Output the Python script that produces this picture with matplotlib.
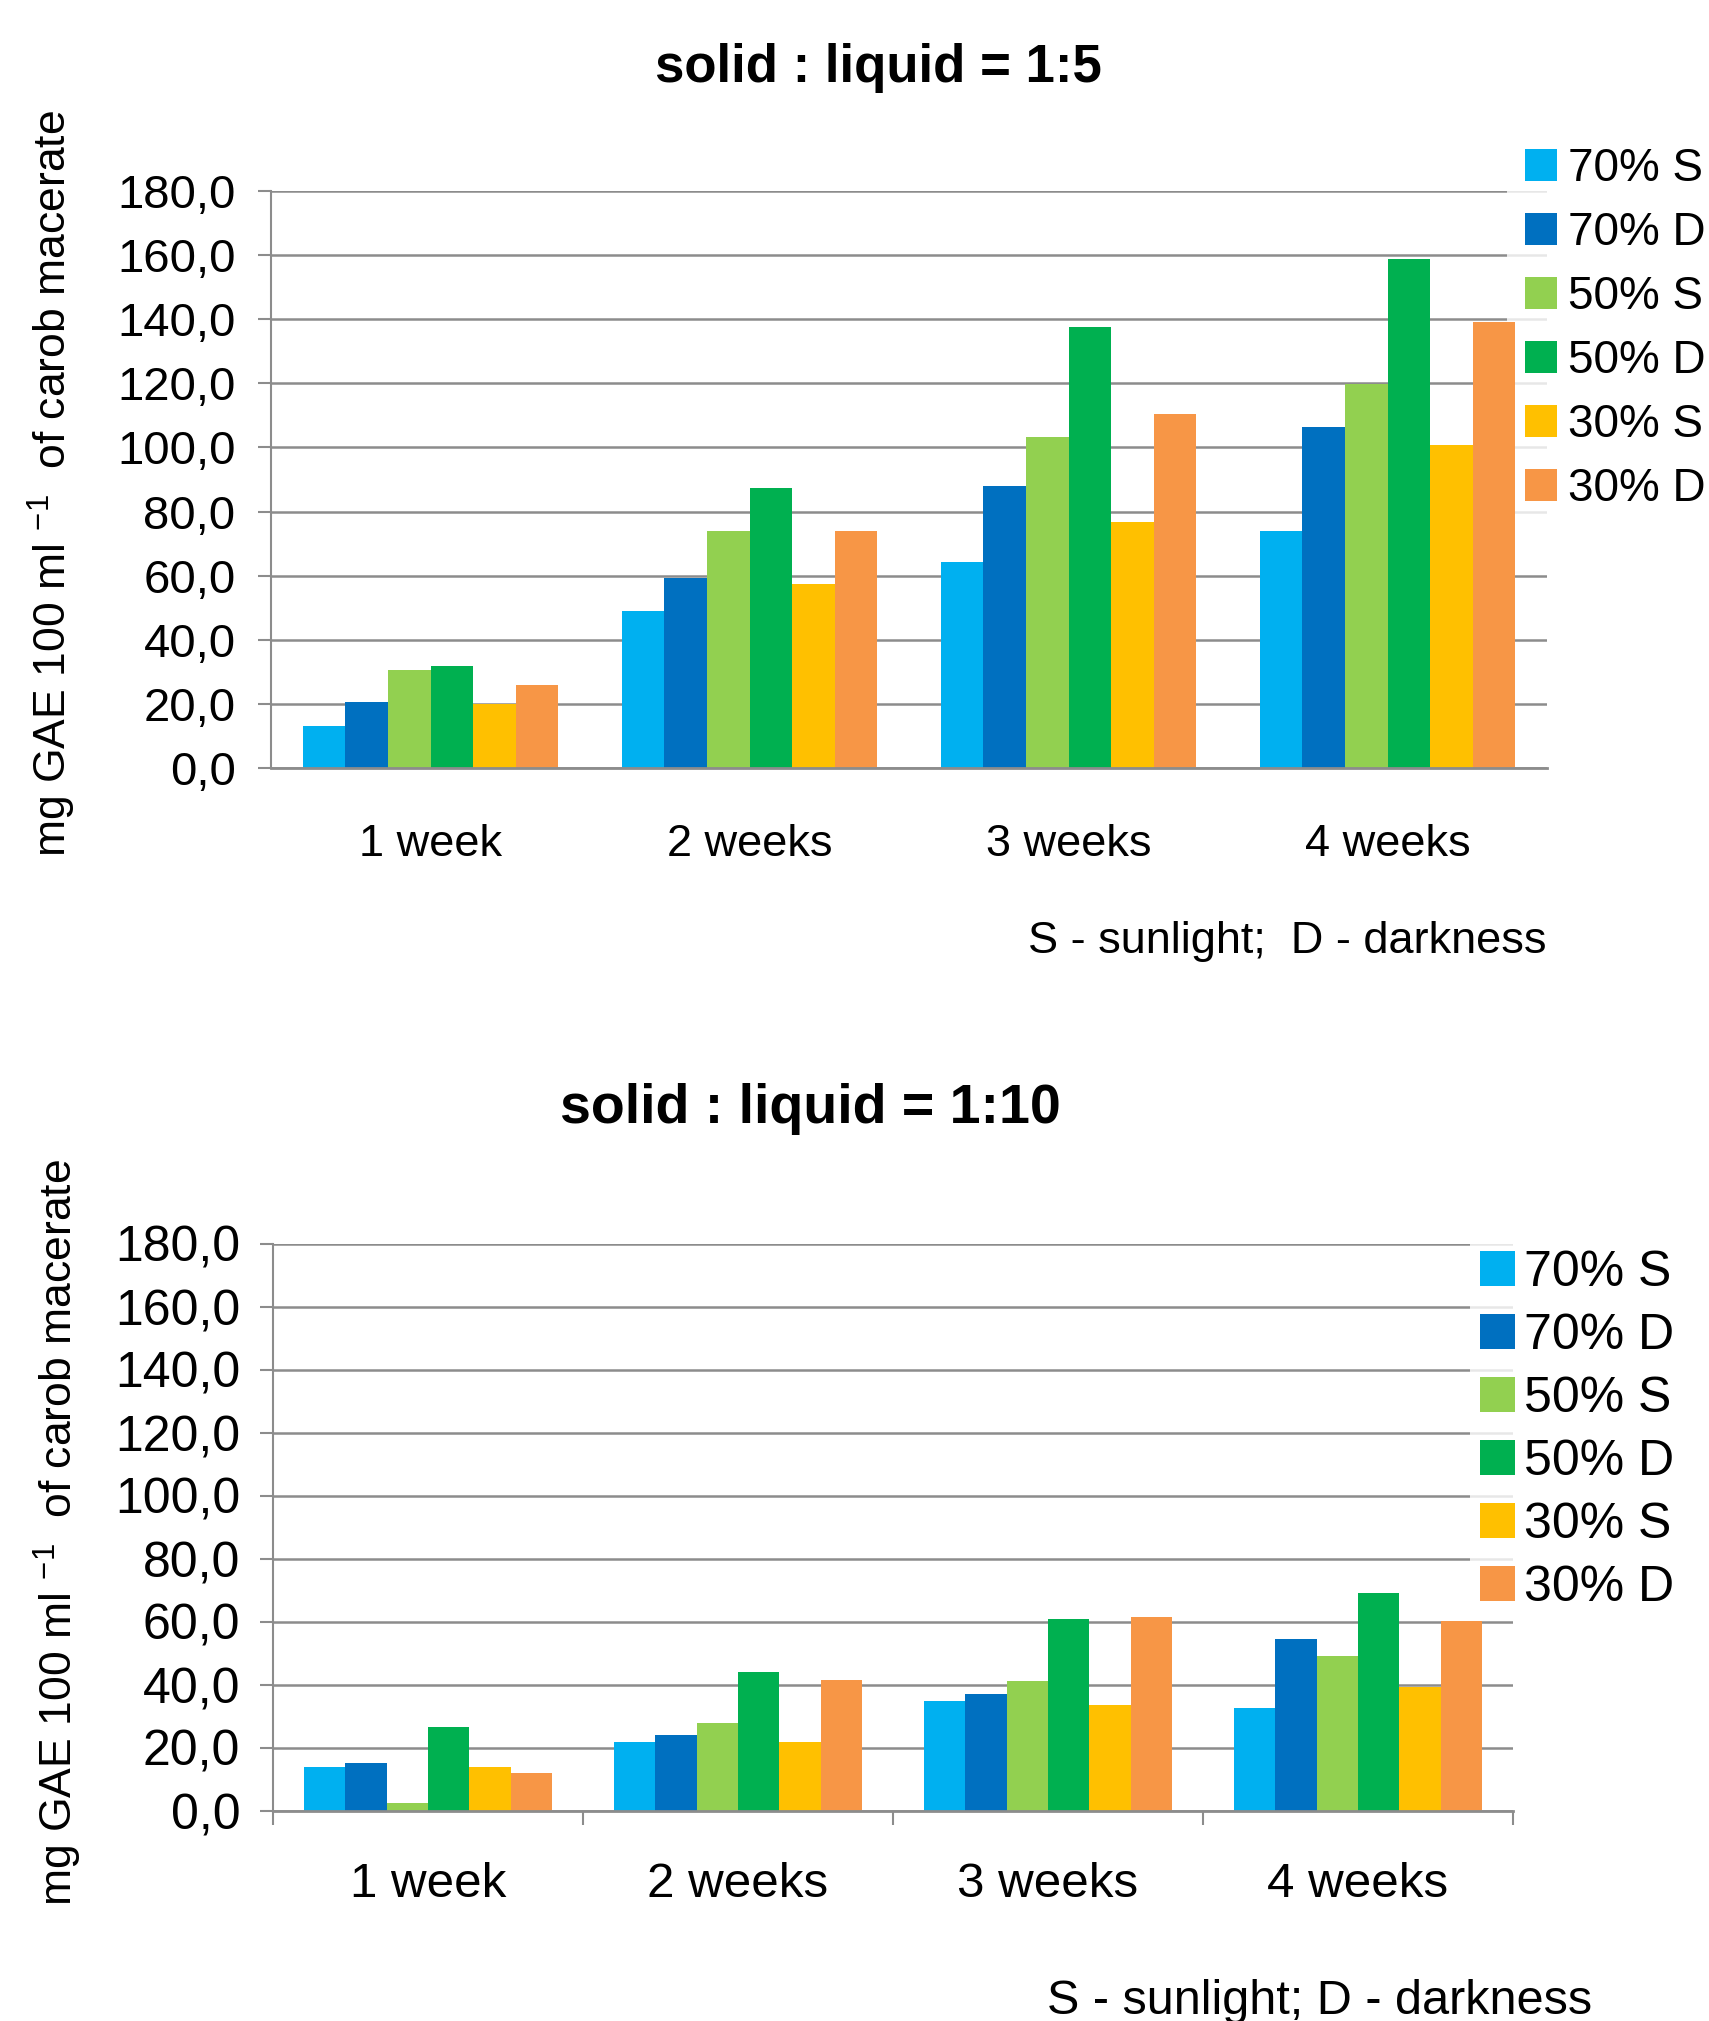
import numpy as np
import matplotlib
matplotlib.use("Agg")
import matplotlib.pyplot as plt

plt.rcParams['font.family'] = ['Liberation Sans', 'DejaVu Sans']
plt.rcParams['mathtext.fontset'] = 'custom'
plt.rcParams['mathtext.rm'] = 'Liberation Sans'
plt.rcParams['mathtext.it'] = 'Liberation Sans'
plt.rcParams['mathtext.default'] = 'regular'

# Extraction time categories
weeks = ["1 week", "2 weeks", "3 weeks", "4 weeks"]
series = ["70% S", "70% D", "50% S", "50% D", "30% S", "30% D"]
colors = ["#00B0F0", "#0070C0", "#92D050", "#00B050", "#FFC000", "#F79646"]

# Total phenolics, mg GAE per 100 ml, solid : liquid = 1:5
ratio5_70S = [13.2, 49.0, 64.3, 74.0]
ratio5_70D = [20.7, 59.2, 88.0, 106.3]
ratio5_50S = [30.5, 74.0, 103.2, 119.9]
ratio5_50D = [31.9, 87.3, 137.5, 158.7]
ratio5_30S = [20.0, 57.4, 76.7, 100.8]
ratio5_30D = [26.0, 74.0, 110.5, 139.0]

# Total phenolics, mg GAE per 100 ml, solid : liquid = 1:10
ratio10_70S = [13.9, 21.9, 35.0, 32.6]
ratio10_70D = [15.2, 24.0, 37.2, 54.7]
ratio10_50S = [2.5, 27.8, 41.4, 49.3]
ratio10_50D = [26.7, 44.0, 60.8, 69.3]
ratio10_30S = [13.9, 21.9, 33.7, 39.4]
ratio10_30D = [12.1, 41.5, 61.5, 60.3]

yticks = np.arange(0, 181, 20)
ytick_labels = [f"{v:.1f}".replace(".", ",") for v in yticks]

GRID = "#8c8c8c"
W, H = 1709, 2021
fig = plt.figure(figsize=(W / 100, H / 100), dpi=100)


def fx(px):
    return px / W


def fy(py):
    return 1 - py / H


def draw_panel(rect, data, boundary_ticks, legend_anchor, fs_y, fs_x, fs_leg,
               leg_spacing, leg_pad, leg_textpad, ypad, xpad):
    ax = fig.add_axes(rect)
    x = np.arange(len(weeks))
    n = len(series)
    group = 0.8
    bw = group / n
    for i, (name, vals, c) in enumerate(zip(series, data, colors)):
        ax.bar(x - group / 2 + bw * (i + 0.5), vals, width=bw, color=c,
               label=name, zorder=1, linewidth=0)
    ax.set_xlim(-0.5, len(weeks) - 0.5)
    ax.set_ylim(0, 180)
    ax.set_axisbelow(True)
    ax.set_yticks(yticks)
    ax.set_yticklabels(ytick_labels)
    ax.yaxis.grid(True, color=GRID, linewidth=1.8)
    ax.tick_params(axis='y', direction='out', length=9.5, width=1.5,
                   color=GRID, labelsize=fs_y, pad=ypad)
    for s in ["top", "right"]:
        ax.spines[s].set_visible(False)
    ax.spines["left"].set_color(GRID)
    ax.spines["left"].set_linewidth(1.5)
    ax.spines["bottom"].set_color(GRID)
    ax.spines["bottom"].set_linewidth(2.0)
    if boundary_ticks:
        ax.set_xticks(np.arange(-0.5, len(weeks), 1.0))
        ax.set_xticklabels([])
        ax.tick_params(axis='x', which='major', direction='out', length=10,
                       width=1.5, color=GRID)
    else:
        ax.set_xticks([])
    ax.set_xticks(x, minor=True)
    ax.set_xticklabels(weeks, minor=True)
    ax.tick_params(axis='x', which='minor', length=0, labelsize=fs_x, pad=xpad)
    leg = ax.legend(loc="upper left", bbox_to_anchor=legend_anchor,
                    bbox_transform=fig.transFigure, frameon=True,
                    fontsize=fs_leg, handlelength=0.7, handleheight=0.7,
                    handletextpad=leg_textpad, labelspacing=leg_spacing,
                    borderpad=leg_pad, borderaxespad=0.0, fancybox=False)
    leg.get_frame().set_facecolor("white")
    leg.get_frame().set_edgecolor("none")
    leg.set_zorder(0.8)
    return ax


ylabel = r"mg GAE 100 ml $^{-1}$  of carob macerate"

# Upper panel: 1:5
draw_panel([fx(271), fy(768), fx(1547) - fx(271), fy(191) - fy(768)],
           [ratio5_70S, ratio5_70D, ratio5_50S, ratio5_50D, ratio5_30S, ratio5_30D],
           False, (fx(1507), fy(129)), fs_y=34, fs_x=32.5, fs_leg=33,
           leg_spacing=0.435, leg_pad=0.4, leg_textpad=0.22, ypad=16, xpad=40)
fig.text(fx(878), fy(68), "solid : liquid = 1:5", ha="center", va="center",
         fontsize=38, fontweight="bold")
fig.text(fx(52), fy(484), ylabel, rotation=90, ha="center", va="center",
         fontsize=32)
fig.text(fx(1547), fy(941), "S - sunlight;  D - darkness", ha="right",
         va="center", fontsize=32.5)

# Lower panel: 1:10
draw_panel([fx(273), fy(1811), fx(1513) - fx(273), fy(1244) - fy(1811)],
           [ratio10_70S, ratio10_70D, ratio10_50S, ratio10_50D, ratio10_30S, ratio10_30D],
           True, (fx(1470), fy(1240)), fs_y=36, fs_x=35.5, fs_leg=36,
           leg_spacing=0.34, leg_pad=0.2, leg_textpad=0.17, ypad=14, xpad=37)
fig.text(fx(810), fy(1109), "solid : liquid = 1:10", ha="center", va="center",
         fontsize=40, fontweight="bold")
fig.text(fx(58), fy(1533), ylabel, rotation=90, ha="center", va="center",
         fontsize=32)
fig.text(fx(1592), fy(2014), "S - sunlight; D - darkness", ha="right",
         va="baseline", fontsize=35)

fig.savefig("out.png", dpi=100, facecolor="white")
